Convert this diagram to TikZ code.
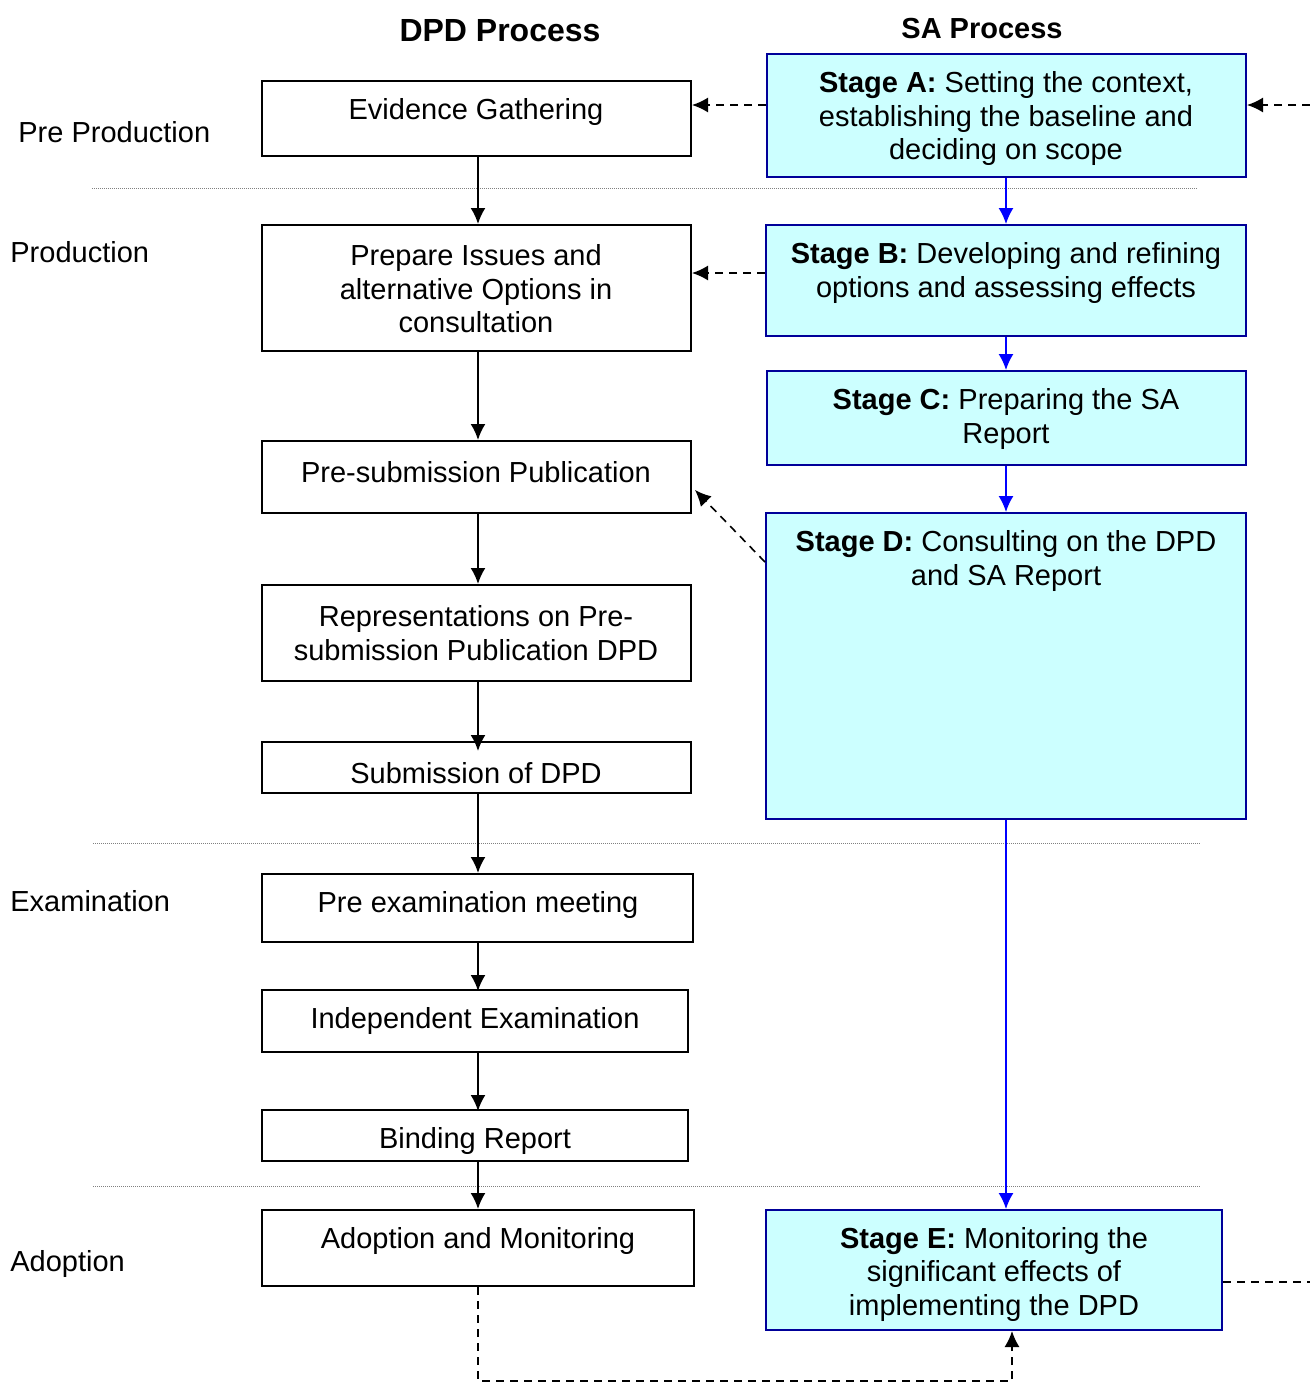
\documentclass[tikz,border=0pt]{standalone}
\usepackage{fontspec}
\setmainfont{Liberation Sans}
\usetikzlibrary{arrows.meta,fit,calc}
\definecolor{sacyan}{HTML}{CCFFFF}
\definecolor{saborder}{HTML}{000099}
\definecolor{sablue}{HTML}{0000FF}
\begin{document}
\begin{tikzpicture}[x=0.5pt,y=-0.5pt,
  every node/.style={font=\fontsize{14.5}{16.75}\selectfont},
  dbox/.style={draw=black,line width=1pt,inner sep=0pt},
  sbox/.style={draw=saborder,fill=sacyan,line width=1pt,inner sep=0pt},
  txt/.style={align=center,inner sep=0pt},
  arr/.style={draw=black,line width=1pt,-{Latex[length=8pt,width=7.5pt]}},
  barr/.style={draw=sablue,line width=0.8pt,-{Latex[length=8pt,width=7.5pt]}},
  darr/.style={draw=black,line width=0.8pt,dash pattern=on 4pt off 3pt,-{Latex[length=8pt,width=7.5pt]}},
  dline/.style={draw=black,line width=0.8pt,dash pattern=on 4pt off 3pt},
  sep/.style={draw=gray,line width=0.5pt,dash pattern=on 0.5pt off 0.5pt},
  phase/.style={anchor=west,inner sep=0pt},
  head/.style={font=\fontsize{16}{18}\selectfont\bfseries,inner sep=0pt}]
\useasboundingbox (0,0) rectangle (1310,1383);

% headings
\node[head] (hdpd) at (500,31) {DPD Process};
\node[head,font=\fontsize{14.5}{16.75}\selectfont\bfseries] (hsa) at (982,29) {SA Process};

% phase labels
\node[phase] (lpre) at (18,132) {Pre Production};
\node[phase] (lprod) at (10,252) {Production};
\node[phase] (lexam) at (10,901) {Examination};
\node[phase] (ladop) at (10,1264) {Adoption};

% separators
\coordinate (s1a) at (92,188); \coordinate (s1b) at (1198,188);
\coordinate (s2a) at (93,843); \coordinate (s2b) at (1200,843);
\coordinate (s3a) at (93,1186); \coordinate (s3b) at (1200,1186);
\draw[sep] (s1a) -- (s1b);
\draw[sep] (s2a) -- (s2b);
\draw[sep] (s3a) -- (s3b);

% left boxes
\node[dbox,fit={(262,81) (691,156)}] (eg) {};
\node[dbox,fit={(262,225) (691,351)}] (prep) {};
\node[dbox,fit={(262,441) (691,513)}] (pres) {};
\node[dbox,fit={(262,585) (691,681)}] (rep) {};
\node[dbox,fit={(262,742) (691,793)}] (sub) {};
\node[dbox,fit={(262,874) (693,942)}] (px) {};
\node[dbox,fit={(262,990) (688,1052)}] (ie) {};
\node[dbox,fit={(262,1110) (688,1161)}] (br) {};
\node[dbox,fit={(262,1210) (694,1286)}] (ad) {};

\node[txt] (egt) at (476,112) {Evidence Gathering};
\node[txt] (prept) at (476,289) {Prepare Issues and\\alternative Options in\\consultation};
\node[txt] (prest) at (476,472) {Pre-submission Publication};
\node[txt] (rept) at (476,633) {Representations on Pre-\\submission Publication DPD};
\node[txt] (subt) at (476,773) {Submission of DPD};
\node[txt] (pxt) at (478,905) {Pre examination meeting};
\node[txt] (iet) at (475,1021) {Independent Examination};
\node[txt] (brt) at (475,1141) {Binding Report};
\node[txt] (adt) at (478,1241) {Adoption and Monitoring};

% right boxes
\node[sbox,fit={(767,54) (1246,177)}] (sa) {};
\node[sbox,fit={(766,225) (1246,336)}] (sb) {};
\node[sbox,fit={(767,371) (1246,465)}] (sc) {};
\node[sbox,fit={(766,513) (1246,819)}] (sd) {};
\node[sbox,fit={(766,1210) (1222,1330)}] (se) {};

\node[txt] (sat) at (1006,118.5) {\textbf{Stage A:} Setting the context,\\establishing the baseline and\\deciding on scope};
\node[txt] (sbt) at (1006,273) {\textbf{Stage B:} Developing and refining\\options and assessing effects};
\node[txt] (sct) at (1006,419) {\textbf{Stage C:} Preparing the SA\\Report};
\node[txt] (sdt) at (1006,561) {\textbf{Stage D:} Consulting on the DPD\\and SA Report};
\node[txt] (set) at (994,1274) {\textbf{Stage E:} Monitoring the\\significant effects of\\implementing the DPD};

% left chain
\draw[arr] (eg.south -| 478,0) -- (prep.north -| 478,0);
\draw[arr] (prep.south -| 478,0) -- (pres.north -| 478,0);
\draw[arr] (pres.south -| 478,0) -- (rep.north -| 478,0);
\draw[arr] (rep.south -| 478,0) -- ($(sub.north -| 478,0)+(0,10)$);
\draw[arr] (sub.south -| 478,0) -- (px.north -| 478,0);
\draw[arr] (px.south -| 478,0) -- ($(ie.north -| 478,0)+(0,2)$);
\draw[arr] (ie.south -| 478,0) -- ($(br.north -| 478,0)+(0,2)$);
\draw[arr] (br.south -| 478,0) -- (ad.north -| 478,0);

% right chain
\draw[barr] (sa.south -| 1006,0) -- (sb.north -| 1006,0);
\draw[barr] (sb.south -| 1006,0) -- (sc.north -| 1006,0);
\draw[barr] (sc.south -| 1006,0) -- (sd.north -| 1006,0);
\draw[barr] (sd.south -| 1006,0) -- (se.north -| 1006,0);

% dashed links
\coordinate (rin) at (1310,105);
\coordinate (rout) at (1310,1282);
\coordinate (dpt) at (695,490);
\coordinate (b1) at (478,1381);
\coordinate (b2) at (1012,1381);
\draw[darr] (sa.west |- rin) -- (eg.east |- rin);
\draw[darr] (rin) -- (sa.east |- rin);
\draw[darr] (sb.west |- 0,273) -- (prep.east |- 0,273);
\draw[darr] (sd.west |- 0,562) -- (dpt);
\draw[dline] (se.east |- rout) -- (rout);
\draw[darr] (ad.south -| b1) -- (b1) -- (b2) -- (se.south -| b2);
\end{tikzpicture}
\end{document}
